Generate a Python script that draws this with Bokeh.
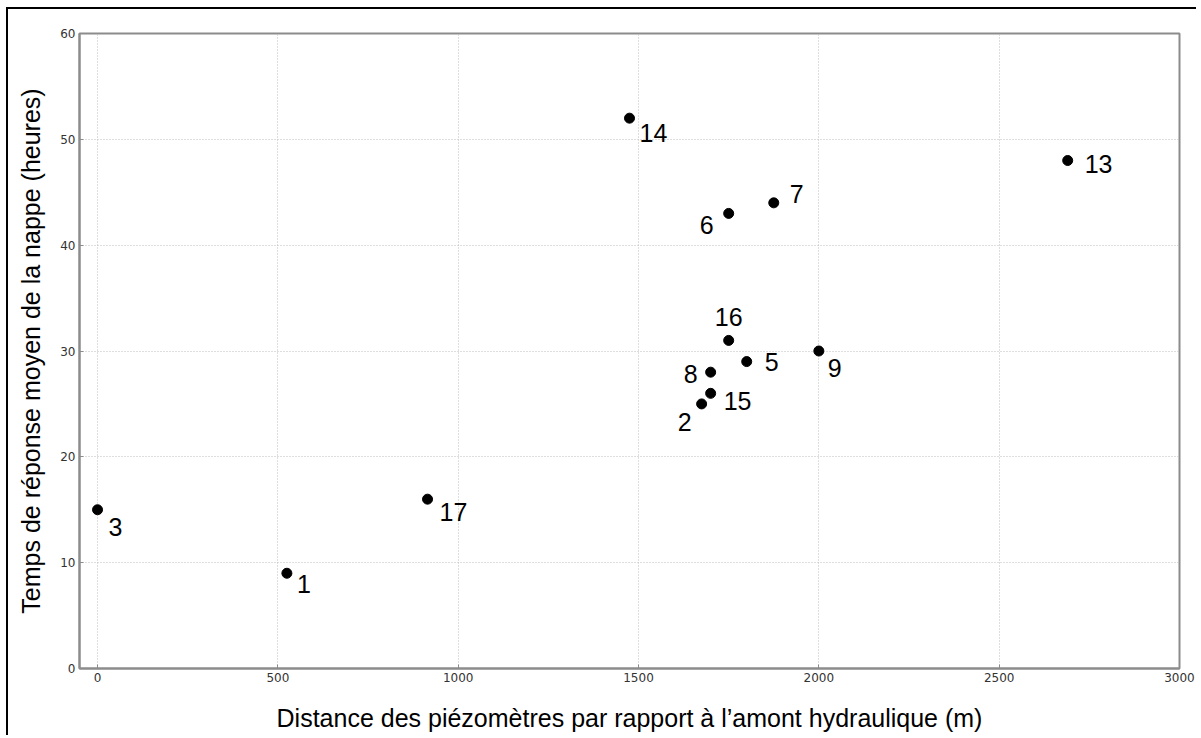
from bokeh.plotting import figure
from bokeh.models import ColumnDataSource, Range1d, FixedTicker, LabelSet
from bokeh.core.properties import value
from bokeh.embed import file_html
from bokeh.resources import INLINE

# Data
ids = ["1", "2", "3", "5", "6", "7", "8", "9", "13", "14", "15", "16", "17"]
distance = [525, 1675, 0, 1800, 1750, 1875, 1700, 2000, 2690, 1475, 1700, 1750, 915]
temps = [9, 25, 15, 29, 43, 44, 28, 30, 48, 52, 26, 31, 16]

# label placement (pixel offsets, style only)
label_dx = [10, -10, 11, 18, -15, 16, -13, 9, 17, 10, 13, 0, 12]
label_dy = [-20, -27, -26, -9, -21, 0, -11, -26, -12, -24, -17, 14, -22]
label_align = ["left", "right", "left", "left", "right", "left", "right", "left",
               "left", "left", "left", "center", "left"]

x_ticks = [0, 500, 1000, 1500, 2000, 2500, 3000]
y_ticks = [0, 10, 20, 30, 40, 50, 60]

src = ColumnDataSource(dict(x=distance, y=temps, t=ids, dx=label_dx, dy=label_dy, al=label_align))

p = figure(width=1190, height=728, output_backend="svg", toolbar_location=None,
           x_range=Range1d(-50, 3000), y_range=Range1d(0, 60),
           min_border_left=71, min_border_top=24, min_border_right=19, min_border_bottom=69)
p.styles = {"border-left": "2px solid black", "border-top": "2px solid black"}
p.margin = (7, 0, 0, 6)

p.scatter("x", "y", source=src, size=10, color="black")
labels = LabelSet(x="x", y="y", text="t", source=src, x_offset="dx", y_offset="dy",
                  text_align="al", text_baseline="alphabetic",
                  text_font=value("Liberation Sans"), text_font_size="25px", text_color="black")
p.add_layout(labels)

p.outline_line_color = "#8c8c8c"
p.outline_line_width = 2

for ax in (p.xaxis[0], p.yaxis[0]):
    ax.axis_line_color = "#8c8c8c"
    ax.axis_line_width = 2
    ax.major_tick_in = 4
    ax.major_tick_out = 0
    ax.major_tick_line_color = "#8c8c8c"
    ax.minor_tick_line_color = None
    ax.major_label_text_font = "DejaVu Sans"
    ax.major_label_text_font_size = "12px"
    ax.major_label_text_color = "#333333"
    ax.axis_label_text_font = "Liberation Sans"
    ax.axis_label_text_font_style = "normal"
    ax.axis_label_text_color = "black"
    ax.axis_label_text_font_size = "25px"

p.xaxis[0].ticker = FixedTicker(ticks=x_ticks)
p.yaxis[0].ticker = FixedTicker(ticks=y_ticks)
p.xaxis[0].major_label_standoff = 4
p.yaxis[0].major_label_standoff = 4
p.xaxis[0].axis_label = "Distance des piézomètres par rapport à l’amont hydraulique (m)"
p.yaxis[0].axis_label = "Temps de réponse moyen de la nappe (heures)"
p.xaxis[0].axis_label_standoff = 19
p.yaxis[0].axis_label_standoff = 12

for g, tk in ((p.xgrid[0], x_ticks), (p.ygrid[0], y_ticks)):
    g.ticker = FixedTicker(ticks=tk)
    g.grid_line_color = "#bdbdbd"
    g.grid_line_dash = "1 2"
    g.grid_line_width = 1

open("out.html", "w").write(file_html(p, INLINE))
